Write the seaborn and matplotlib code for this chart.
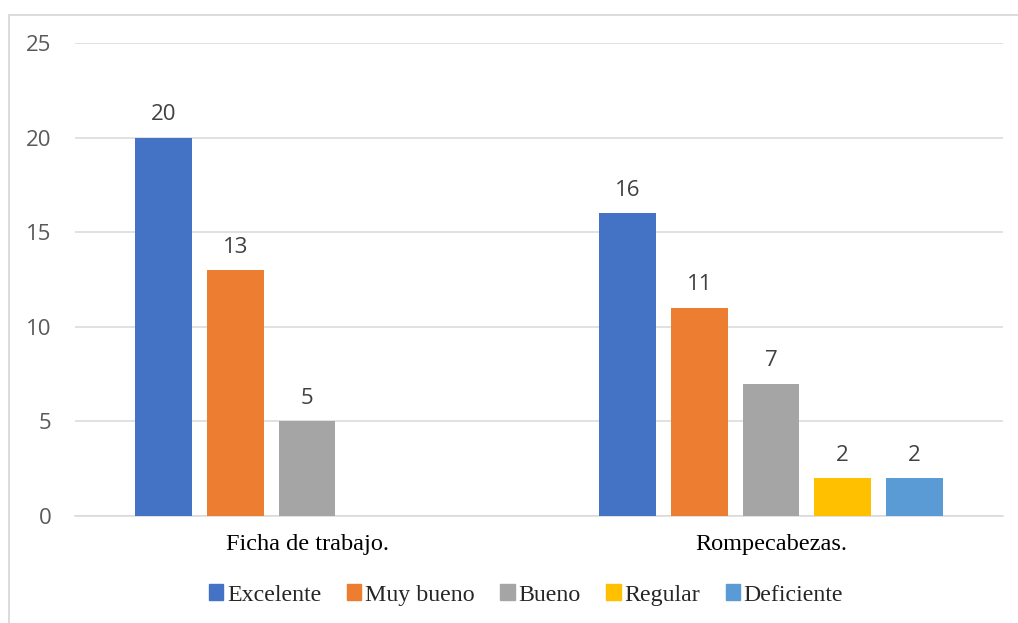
import numpy as np
import pandas as pd
import matplotlib
matplotlib.use("Agg")
import matplotlib.pyplot as plt
from matplotlib.patches import Rectangle
import seaborn as sns

categories = ["Ficha de trabajo.", "Rompecabezas."]
series = ["Excelente", "Muy bueno", "Bueno", "Regular", "Deficiente"]
excelente = [20, 16]
muy_bueno = [13, 11]
bueno = [5, 7]
regular = [np.nan, 2]
deficiente = [np.nan, 2]
yticks = [0, 5, 10, 15, 20, 25]
colors = ["#4472C4", "#ED7D31", "#A5A5A5", "#FFC000", "#5B9BD5"]

values = [excelente, muy_bueno, bueno, regular, deficiente]
rows = []
for s, vals in zip(series, values):
    for c, v in zip(categories, vals):
        rows.append({"categoria": c, "serie": s, "valor": v})
df = pd.DataFrame(rows)

sns.set_theme(style="white")
plt.rcParams["font.family"] = ["Open Sans", "DejaVu Sans"]

W, H = 1018, 623
fig = plt.figure(figsize=(W / 100, H / 100), dpi=100)
ax = fig.add_axes([75 / W, 1 - 516 / H, (1003 - 75) / W, (516 - 43) / H])

sns.barplot(data=df, x="categoria", y="valor", hue="serie", order=categories,
            hue_order=series, palette=colors, width=0.773, gap=0.212,
            saturation=1, errorbar=None, ax=ax, legend=False, zorder=3,
            linewidth=0)

for cont in ax.containers:
    labels = ["" if (np.isnan(v) or v == 0) else f"{int(v)}" for v in cont.datavalues]
    ax.bar_label(cont, labels=labels, padding=9, fontsize=16, color="#404040",
                 family=["Open Sans", "DejaVu Sans"])

ax.set_xlim(-0.5, 1.5)
ax.set_ylim(0, 25)
ax.set_yticks(yticks)
ax.set_yticklabels([str(t) for t in yticks], fontsize=16, color="#595959")
ax.set_xlabel("")
ax.set_ylabel("")
ax.set_xticks(range(len(categories)))
ax.set_xticklabels(categories, fontsize=17.5, color="black", family="Liberation Serif")
ax.tick_params(axis="y", length=0, pad=17)
ax.tick_params(axis="x", length=0, pad=13)
ax.yaxis.grid(True, color="#D9D9D9", linewidth=1.1, zorder=0)
ax.set_axisbelow(True)
for side in ["left", "right", "top"]:
    ax.spines[side].set_visible(False)
ax.spines["bottom"].set_color("#D9D9D9")
ax.spines["bottom"].set_linewidth(1.1)

handles = [Rectangle((0, 0), 1, 1, color=c) for c in colors]
fig.legend(handles, series, loc="center", bbox_to_anchor=(526 / W, 1 - 595 / H),
           ncol=5, frameon=False, handlelength=0.6, handleheight=0.6,
           handletextpad=0.15, columnspacing=1.08,
           prop={"family": "Liberation Serif", "size": 17.2})

fig.patches.append(Rectangle((8.5 / W, -0.2), 1.5, 1.2 - 14.5 / H,
                             transform=fig.transFigure, fill=False,
                             edgecolor="#D9D9D9", linewidth=1.3, zorder=0))

fig.savefig("out.png", dpi=100)
